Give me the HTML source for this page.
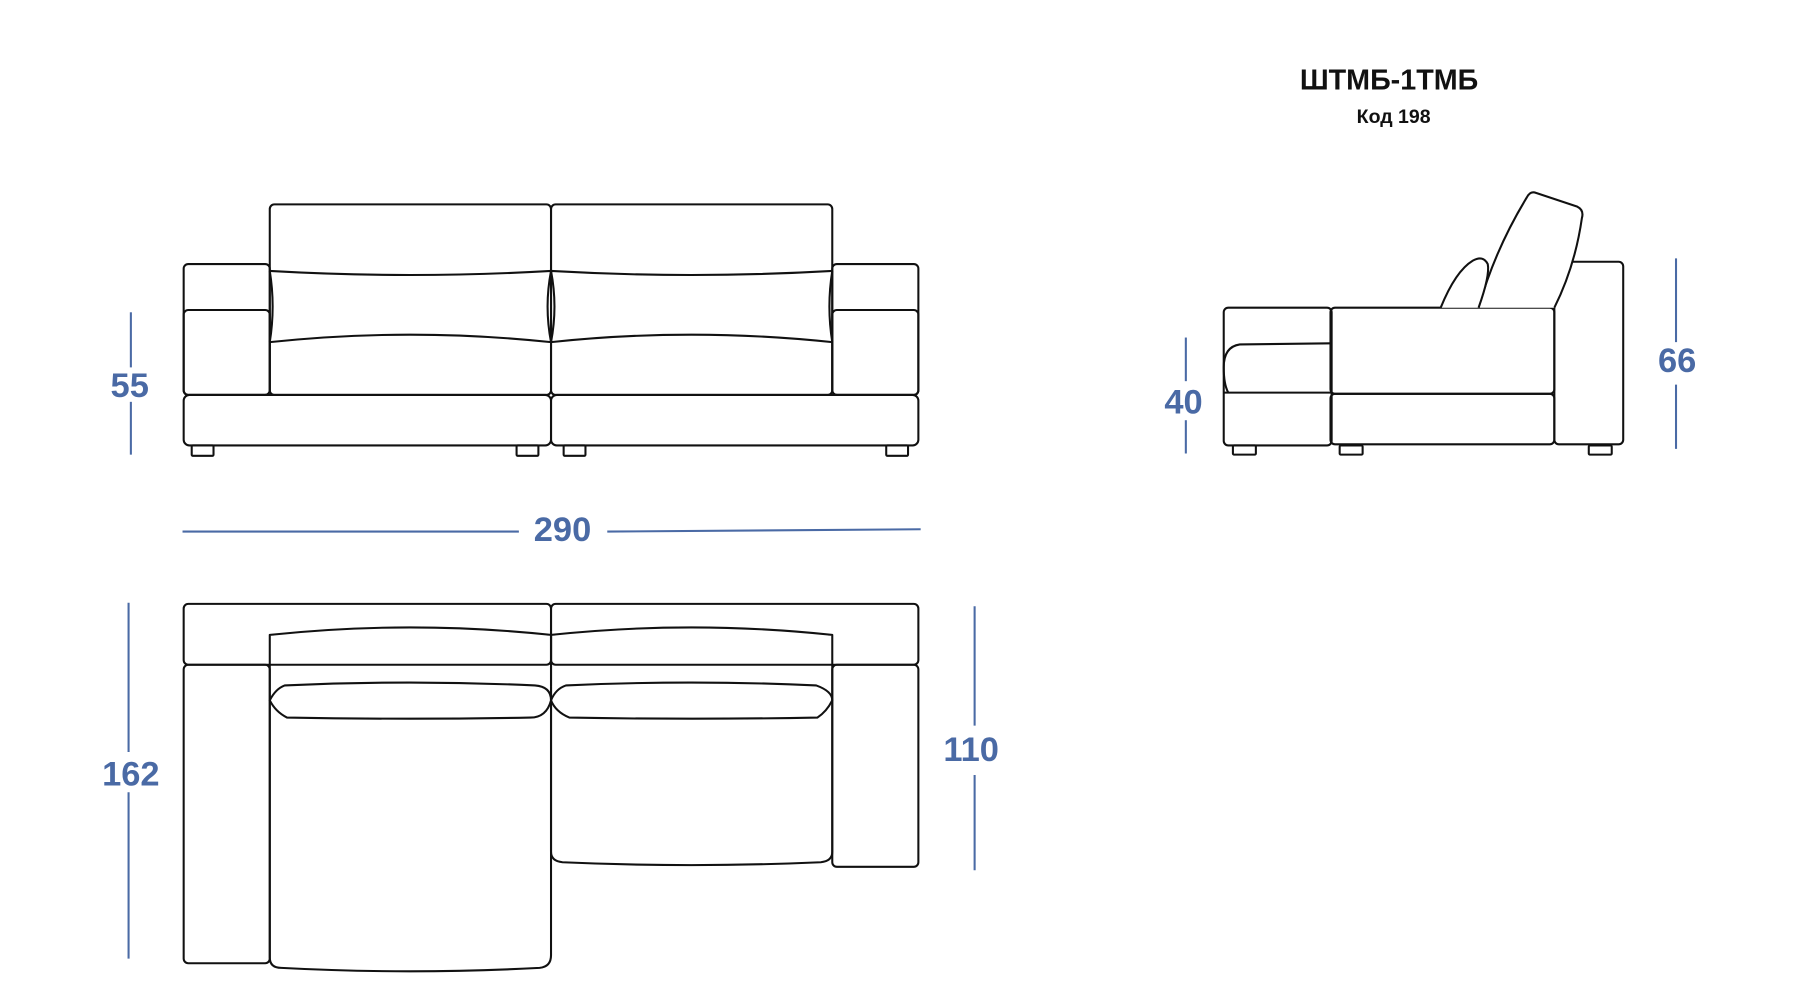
<!DOCTYPE html>
<html><head><meta charset="utf-8"><style>html,body{margin:0;padding:0;background:#fff}svg{display:block}</style></head>
<body>
<svg width="1800" height="1000" viewBox="0 0 1568 871" preserveAspectRatio="none" xmlns="http://www.w3.org/2000/svg">
<g fill="none" stroke="#111" stroke-width="1.8" stroke-linejoin="round">
<rect x="235" y="178" width="245" height="166" rx="4"/>
<rect x="480" y="178" width="245" height="166" rx="4"/>
<rect x="160" y="230" width="75" height="114" rx="4"/>
<rect x="160" y="270" width="75" height="74" rx="4"/>
<rect x="725" y="230" width="75" height="114" rx="4"/>
<rect x="725" y="270" width="75" height="74" rx="4"/>
<rect x="160" y="344" width="320" height="44" rx="5"/>
<rect x="480" y="344" width="320" height="44" rx="5"/>
<path d="M235 236 Q357 243 480 236 Q602 243 725 236"/>
<path d="M235 298 Q357 285 480 298 Q602 285 725 298"/>
<path d="M235 236 Q240 267 235 298 M480 236 Q474 267 480 298 Q486 267 480 236 M725 236 Q720 267 725 298"/>
<rect x="167" y="388" width="19" height="9" rx="1"/>
<rect x="450" y="388" width="19" height="9" rx="1"/>
<rect x="491" y="388" width="19" height="9" rx="1"/>
<rect x="772" y="388" width="19" height="9" rx="1"/>
<rect x="160" y="526" width="320" height="53" rx="4"/>
<rect x="480" y="526" width="320" height="53" rx="4"/>
<rect x="160" y="579" width="75" height="260" rx="4"/>
<rect x="725" y="579" width="75" height="176" rx="4"/>
<path d="M235 598 L235 834 Q235 843 245 843 Q357 849 470 843 Q480 842 480 832 L480 598"/>
<path d="M480 598 L480 742 Q480 750 490 751 Q602 756 715 751 Q725 750 725 742 L725 598"/>
<path d="M235 598 L235 553 Q357 540 480 553 L480 598"/>
<path d="M480 598 L480 553 Q602 540 725 553 L725 598"/>
<path d="M248 597 Q357 592 466 597 Q480 598 480 610 Q476 625 462 625 Q357 627 250 625 Q240 620 235 610 Q240 600 248 597Z"/>
<path d="M493 597 Q602 592 711 597 Q725 602 725 610 Q720 620 712 625 Q602 627 496 625 Q484 620 480 610 Q484 600 493 597Z"/>
<rect x="1066" y="268" width="94" height="120" rx="4"/>
<line x1="1066" y1="342" x2="1160" y2="342"/>
<path d="M1160 299 L1080 300 Q1066 302 1066 320 Q1066 335 1070 342"/>
<rect x="1159" y="268" width="195" height="75" rx="4"/>
<rect x="1159" y="343" width="195" height="44" rx="4"/>
<rect x="1354" y="228" width="60" height="159" rx="4"/>
<path d="M1288 268 Q1302 218 1330 172 Q1333 166 1338 168 L1374 180 Q1380 183 1378 190 Q1372 232 1354 268" fill="#fff"/>
<path d="M1255 268 Q1268 236 1283 227 Q1292 222 1296 230 Q1298 240 1288 268" fill="#fff"/>
<rect x="1074" y="388" width="20" height="8" rx="1"/>
<rect x="1167" y="388" width="20" height="8" rx="1"/>
<rect x="1384" y="388" width="20" height="8" rx="1"/>
</g>
<g stroke="#4a6aa5" stroke-width="1.8">
<line x1="114" y1="272" x2="114" y2="320"/><line x1="114" y1="350" x2="114" y2="396"/>
<line x1="159" y1="463" x2="452" y2="463"/><line x1="529" y1="463" x2="802" y2="461"/>
<line x1="112" y1="525" x2="112" y2="655"/><line x1="112" y1="690" x2="112" y2="835"/>
<line x1="849" y1="528" x2="849" y2="632"/><line x1="849" y1="675" x2="849" y2="758"/>
<line x1="1033" y1="294" x2="1033" y2="332"/><line x1="1033" y1="366" x2="1033" y2="395"/>
<line x1="1460" y1="225" x2="1460" y2="298"/><line x1="1460" y1="335" x2="1460" y2="391"/>
</g>
<g fill="#4a6aa5" font-family="Liberation Sans, sans-serif" font-size="30" font-weight="bold" text-anchor="middle">
<text x="113" y="346">55</text>
<text x="490" y="471">290</text>
<text x="114" y="684">162</text>
<text x="846" y="663">110</text>
<text x="1031" y="360">40</text>
<text x="1461" y="324">66</text>
</g>
<g fill="#111" font-family="Liberation Sans, sans-serif" font-weight="bold" text-anchor="middle">
<text x="1210" y="78" font-size="25">ШТМБ-1ТМБ</text>
<text x="1214" y="107" font-size="17">Код 198</text>
</g>
</svg>
</body></html>
